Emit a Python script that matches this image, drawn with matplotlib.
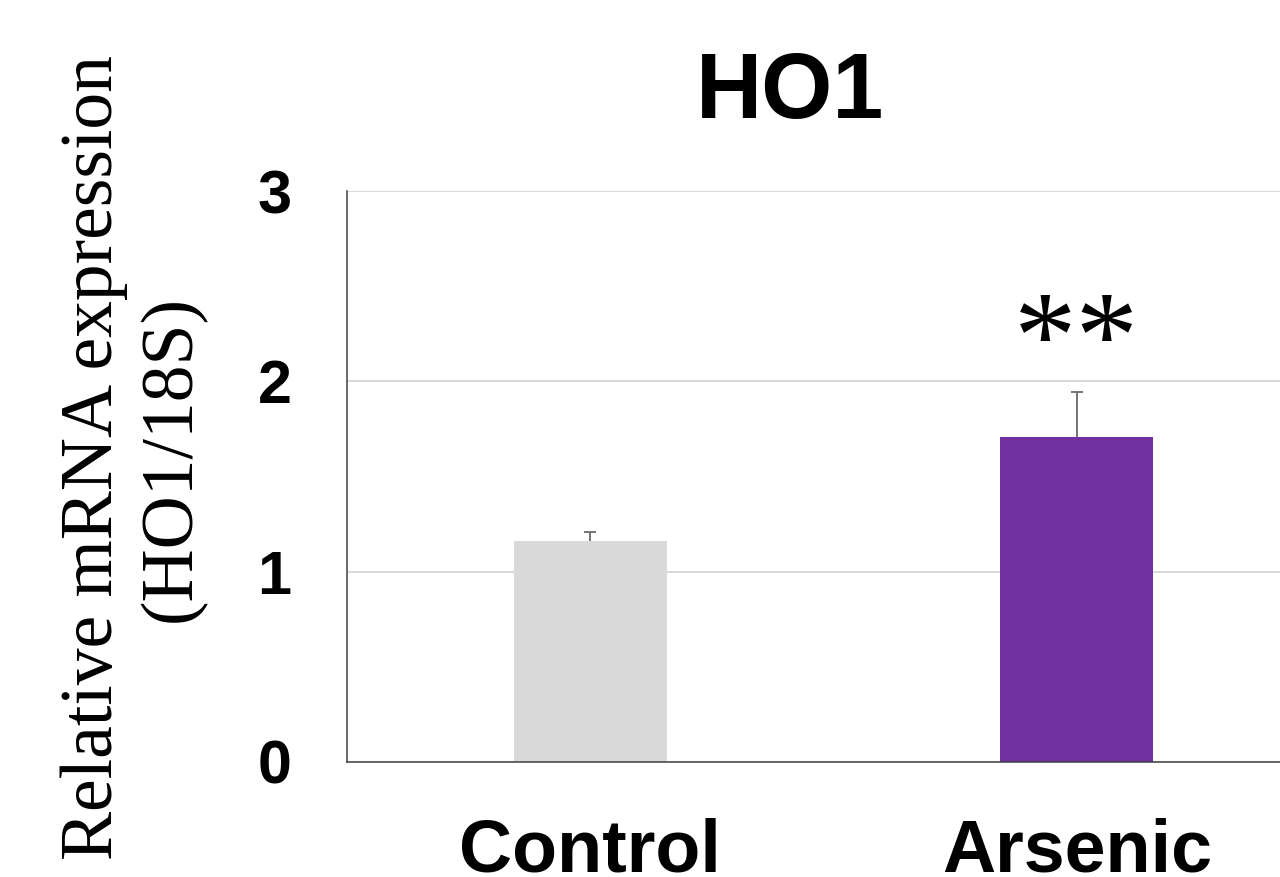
import matplotlib
matplotlib.use("Agg")
import matplotlib.pyplot as plt

# data
groups = ["Control", "Arsenic"]
means = [1.16, 1.71]
errs = [0.047, 0.235]
colors = ["#d9d9d9", "#7030a0"]
yticks = [0, 1, 2, 3]
sig = ["", "**"]

fig = plt.figure(figsize=(12.8, 8.77), dpi=100)
ax = fig.add_axes([347/1280, 115/877, (1320-347)/1280, 571/877])
x = range(len(groups))
ax.bar(x, means, width=0.314, color=colors, zorder=3)
# error bars drawn under the bars, so only the upper half shows
ax.errorbar(x, means, yerr=errs, fmt="none", ecolor="#6a6a6a",
            elinewidth=1.3, capsize=4.5, capthick=1.3, zorder=2)
ax.set_xlim(-0.5, 1.5)
ax.set_ylim(0, 3)
ax.set_yticks(yticks)
ax.set_yticklabels([str(t) for t in yticks], fontfamily="Liberation Sans",
                   fontweight="bold", fontsize=44)
ax.set_xticks(list(x))
ax.set_xticklabels(groups, fontfamily="Liberation Sans", fontweight="bold", fontsize=53)
ax.tick_params(axis="y", length=0, pad=40)
ax.tick_params(axis="x", length=0, pad=40)
ax.grid(axis="y", color="#d9d9d9", lw=1.5, zorder=0)
for s in ("top", "right"):
    ax.spines[s].set_visible(False)
for s in ("left", "bottom"):
    ax.spines[s].set_color("#404040")
    ax.spines[s].set_linewidth(1.1)
    ax.spines[s].set_zorder(5)

for i, s in enumerate(sig):
    if s:
        ax.annotate(s, (i, means[i] + errs[i]), xytext=(0, 32), textcoords="offset points",
                    ha="center", va="center", fontfamily="Liberation Serif", fontsize=90)

fig.text(790/1280, 1 - 118/877, "HO1", ha="center", va="baseline",
         fontfamily="Liberation Sans", fontweight="bold", fontsize=66)
fig.text(133/1280, 1 - 458/877, "Relative mRNA expression\n(HO1/18S)", rotation=90,
         ha="center", va="center", multialignment="center",
         fontfamily="Liberation Serif", fontsize=53, linespacing=1.2)

fig.savefig("out.png", dpi=100)
